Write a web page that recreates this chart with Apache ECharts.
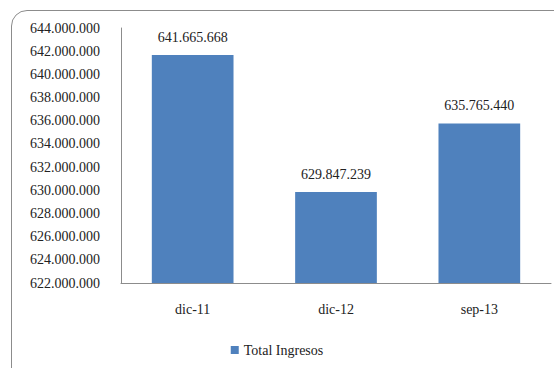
<!DOCTYPE html>
<html>
<head>
<meta charset="utf-8">
<script src="https://cdn.jsdelivr.net/npm/echarts@6/dist/echarts.min.js"></script>
<style>
    html, body { margin: 0; padding: 0; background: #fff; }
    #frame {
        position: absolute; left: 11px; top: 10px; width: 570px; height: 380px;
        border: 1px solid #8c8c8c; border-radius: 16px; box-sizing: border-box;
    }
    #chart { position: absolute; left: 0; top: 0; width: 554px; height: 368px; }
</style>
</head>
<body>
<div id="frame"></div>
<div id="chart"></div>
<script>
    var categories = ['dic-11', 'dic-12', 'sep-13'];
    var totalIngresos = [641665668, 629847239, 635765440];
    var yMin = 622000000;
    var yMax = 644000000;
    var yStep = 2000000;

    // miles con punto: 641665668 -> 641.665.668
    function fmt(v) {
        return String(Math.round(v)).replace(/\B(?=(\d{3})+(?!\d))/g, '.');
    }

    var FONT = 'Liberation Serif';

    // svg: el texto lo resuelve el navegador como texto normal
    var chart = echarts.init(document.getElementById('chart'), null, { renderer: 'svg' });
    chart.setOption({
        animation: false,
        grid: { left: 121, right: 3, top: 28, bottom: 85 },
        legend: {
            data: ['Total Ingresos'],
            bottom: 6,
            left: 'center',
            itemWidth: 8, itemHeight: 8,
            icon: 'rect',
            itemGap: 4,
            textStyle: { fontFamily: FONT, fontSize: 14, color: '#222' }
        },
        xAxis: {
            type: 'category',
            data: categories,
            axisLine: { lineStyle: { color: '#8c8c8c', width: 1 } },
            axisTick: { show: false },
            axisLabel: { fontFamily: FONT, fontSize: 14, color: '#222', margin: 19 }
        },
        yAxis: {
            type: 'value',
            min: yMin, max: yMax, interval: yStep,
            axisLine: { show: true, lineStyle: { color: '#8c8c8c', width: 1 } },
            axisTick: { show: false },
            splitLine: { show: false },
            axisLabel: {
                fontFamily: FONT, fontSize: 14, color: '#222', margin: 21,
                formatter: function(v) { return fmt(v); }
            }
        },
        series: [{
            name: 'Total Ingresos',
            type: 'bar',
            data: totalIngresos,
            barWidth: '57%',
            itemStyle: { color: '#4F81BD' },
            label: {
                show: true, position: 'top', distance: 11,
                fontFamily: FONT, fontSize: 14, color: '#222',
                formatter: function(p) { return fmt(p.value); }
            }
        }]
    });
</script>
</body>
</html>
